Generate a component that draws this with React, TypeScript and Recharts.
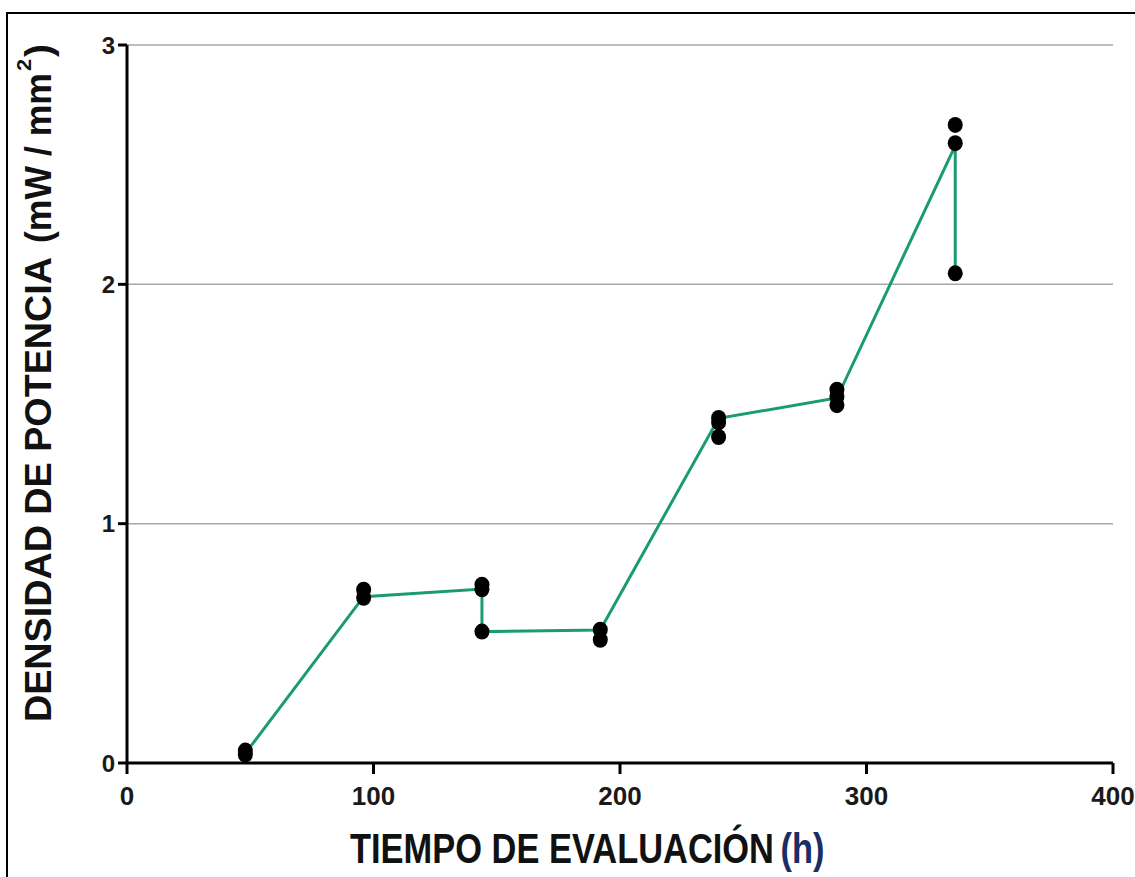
import React from "react";
import {
  ComposedChart,
  Line,
  Scatter,
  XAxis,
  YAxis,
  CartesianGrid,
} from "recharts";

// Measured points (hours, mW/mm²)
const measuredHours = [48, 48, 96, 96, 144, 144, 144, 192, 192, 240, 240, 240, 288, 288, 288, 336, 336, 336];
const measuredDensity = [0.052, 0.035, 0.724, 0.69, 0.745, 0.726, 0.549, 0.557, 0.515, 1.442, 1.423, 1.362, 1.56, 1.53, 1.495, 2.666, 2.59, 2.046];

// Connecting green line
const lineHours = [48, 96, 144, 144, 192, 240, 288, 336, 336];
const lineDensity = [0.04, 0.695, 0.727, 0.549, 0.556, 1.44, 1.525, 2.58, 2.046];

const xTicks = [0, 100, 200, 300, 400];
const yTicks = [0, 1, 2, 3];

const xTitle = "TIEMPO DE EVALUACIÓN";
const xUnit = "(h)";
const yTitle = "DENSIDAD DE POTENCIA";
const yUnitA = "(mW / mm";
const yUnitSup = "2";
const yUnitB = ")";

const scatterData = measuredHours.map((x, i) => ({ x, y: measuredDensity[i] }));
const lineData = lineHours.map((x, i) => ({ x, y: lineDensity[i] }));

const FONT = "'Liberation Sans', Arial, Helvetica, sans-serif";

const Dot = (props: any) => {
  const { cx, cy } = props;
  if (cx == null || cy == null) return null;
  return <ellipse cx={cx} cy={cy} rx={7.5} ry={8} fill="#000" />;
};

const XTitle = () => (
  <text
    transform="translate(350, 863) scale(0.82, 1)"
    x={0}
    y={0}
    fontFamily={FONT}
    fontWeight="bold"
    fontSize={42}
    fill="#111"
  >
    <tspan>{xTitle}</tspan>
    <tspan fill="#1a2d66" dx={8}>{xUnit}</tspan>
  </text>
);

const YTitle = () => (
  <g>
    <text
      transform="translate(51, 722) rotate(-90)"
      x={0}
      y={0}
      fontFamily={FONT}
      fontWeight="bold"
      fontSize={36}
      fill="#111"
      textLength={465}
      lengthAdjust="spacingAndGlyphs"
    >
      {yTitle}
    </text>
    <text
      transform="translate(51, 243) rotate(-90)"
      x={0}
      y={0}
      fontFamily={FONT}
      fontWeight="bold"
      fontSize={36}
      fill="#111"
      textLength={170}
      lengthAdjust="spacingAndGlyphs"
    >
      {yUnitA}
    </text>
    <text
      transform="translate(31, 71) rotate(-90)"
      x={0}
      y={0}
      fontFamily={FONT}
      fontWeight="bold"
      fontSize={20}
      fill="#111"
      textLength={12}
      lengthAdjust="spacingAndGlyphs"
    >
      {yUnitSup}
    </text>
    <text
      transform="translate(51, 57) rotate(-90)"
      x={0}
      y={0}
      fontFamily={FONT}
      fontWeight="bold"
      fontSize={36}
      fill="#111"
      textLength={13}
      lengthAdjust="spacingAndGlyphs"
    >
      {yUnitB}
    </text>
  </g>
);

export default function App() {
  return (
    <div style={{ position: "absolute", left: 0, top: 0, width: 1135, height: 877, background: "#fff", overflow: "hidden" }}>
      <div
        style={{
          position: "absolute",
          left: 6,
          top: 12,
          width: 1200,
          height: 900,
          borderLeft: "2px solid #000",
          borderTop: "2px solid #000",
        }}
      />
      <div style={{ position: "absolute", left: 0, top: 0 }}>
        <ComposedChart
          width={1135}
          height={877}
          margin={{ top: 45, right: 22, bottom: 0, left: 0 }}
        >
          <CartesianGrid vertical={false} stroke="#a8a8a8" strokeWidth={1.5} />
          <XAxis
            type="number"
            dataKey="x"
            domain={[0, 400]}
            ticks={xTicks}
            allowDataOverflow
            height={114}
            stroke="#000"
            strokeWidth={3}
            tickSize={11}
            tickMargin={13}
            tick={{ fontFamily: FONT, fontSize: 26, fontWeight: "bold", fill: "#1a1a1a" }}
            tickLine={{ stroke: "#000", strokeWidth: 3 }}
            label={{ content: () => <XTitle /> }}
          />
          <YAxis
            type="number"
            dataKey="y"
            domain={[0, 3]}
            ticks={yTicks}
            allowDataOverflow
            width={127}
            stroke="#000"
            strokeWidth={3}
            tickSize={9}
            tickMargin={3}
            tick={{ fontFamily: FONT, fontSize: 24, fontWeight: "bold", fill: "#1a1a1a" }}
            tickLine={{ stroke: "#000", strokeWidth: 3 }}
            label={{ content: () => <YTitle /> }}
          />
          <Line
            data={lineData}
            dataKey="y"
            type="linear"
            stroke="#1a9c6c"
            strokeWidth={3}
            dot={false}
            activeDot={false}
            isAnimationActive={false}
          />
          <Scatter
            data={scatterData}
            dataKey="y"
            fill="#000"
            shape={<Dot />}
            isAnimationActive={false}
          />
        </ComposedChart>
      </div>
    </div>
  );
}
